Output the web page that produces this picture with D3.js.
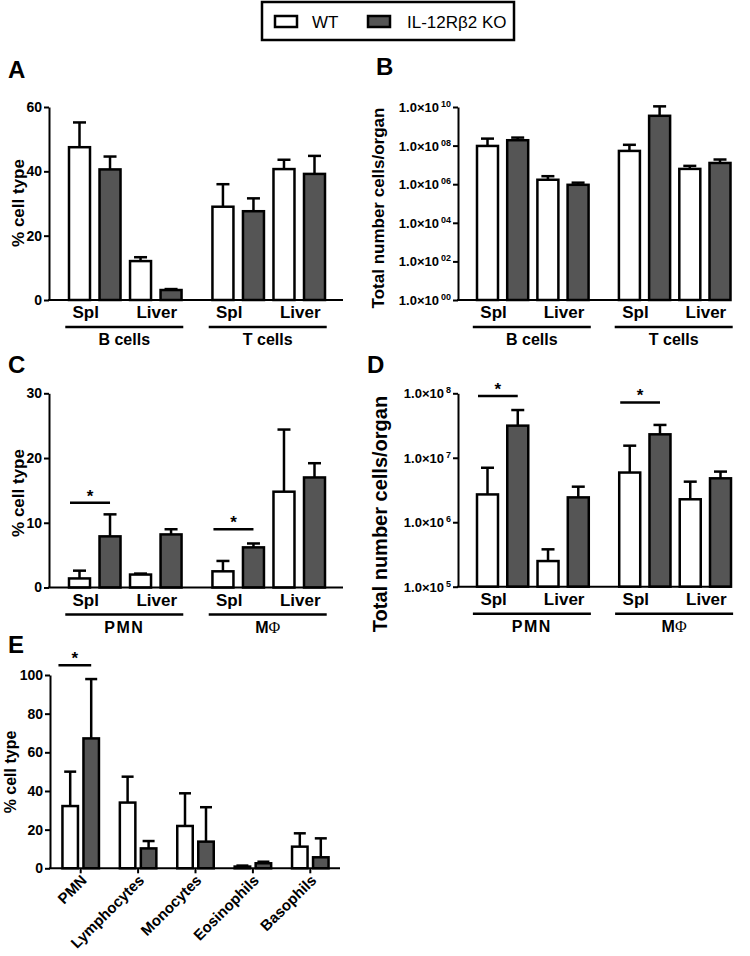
<!DOCTYPE html>
<html><head><meta charset="utf-8">
<script src="https://cdn.jsdelivr.net/npm/d3@7"></script>
<style>
body{margin:0;background:#fff;}
svg text{font-family:"Liberation Sans",Arial,sans-serif;fill:#000;}
</style></head>
<body><svg id="c" width="750" height="956"></svg>
<script>
// ---------------- DATA ----------------
const seriesNames = ["WT", "IL-12Rβ2 KO"];
const organs = ["Spl", "Liver"];
const groupsAB = ["B cells", "T cells"];
const groupsCD = ["PMN", "MΦ"];
// order: group0-Spl, group0-Liver, group1-Spl, group1-Liver
const A_wt = [47.5, 12.1, 29.0, 40.7];
const A_ko = [40.6, 3.1, 27.6, 39.2];
const A_wtErr = [55.2, 13.3, 36.0, 43.6];
const A_koErr = [44.6, 3.4, 31.6, 44.8];
const A_ticks = [0, 20, 40, 60];

const B_wt = [9.6e7, 1.7e6, 5.3e7, 6.2e6];
const B_ko = [1.9e8, 9.3e5, 3.5e9, 1.26e7];
const B_wtErr = [2.3e8, 2.6e6, 1.1e8, 8.9e6];
const B_koErr = [2.6e8, 1.2e6, 1.08e10, 1.9e7];
const B_ticks = [1, 1e2, 1e4, 1e6, 1e8, 1e10];

const C_wt = [1.4, 2.0, 2.5, 14.8];
const C_ko = [7.9, 8.2, 6.2, 17.0];
const C_wtErr = [2.6, 2.15, 4.1, 24.4];
const C_koErr = [11.3, 9.0, 6.8, 19.2];
const C_ticks = [0, 10, 20, 30];
const C_sig = [{pair: 0, level: 13.1}, {pair: 2, level: 9.0}];

const D_wt = [2.7e6, 2.5e5, 5.9e6, 2.27e6];
const D_ko = [3.15e7, 2.43e6, 2.31e7, 4.8e6];
const D_wtErr = [7.0e6, 3.8e5, 1.54e7, 4.26e6];
const D_koErr = [5.5e7, 3.56e6, 3.23e7, 6.1e6];
const D_ticks = [1e5, 1e6, 1e7, 1e8];
const D_sig = [{pair: 0, level: 9.1e7}, {pair: 2, level: 7.2e7}];

const E_cats = ["PMN", "Lymphocytes", "Monocytes", "Eosinophils", "Basophils"];
const E_wt = [32.2, 34.0, 21.9, 0.9, 11.2];
const E_ko = [67.2, 10.3, 13.8, 2.6, 5.7];
const E_wtErr = [50, 47.4, 38.8, 1.4, 18.1];
const E_koErr = [97.9, 14.1, 31.6, 3.4, 15.5];
const E_ticks = [0, 20, 40, 60, 80, 100];
const E_sig = [{cat: 0, level: 105}];

// ---------------- DRAW ----------------
const svg = d3.select("#c");
const WT_FILL = "#fff", KO_FILL = "#555";
const SW = 2.5;

function supText(sel, base, exp, baseSize, expSize) {
  sel.text(null);
  sel.append("tspan").text(base).attr("font-size", baseSize);
  sel.append("tspan").text(exp).attr("font-size", expSize).attr("dy", -5).attr("dx", 2);
}

function barPanel(o) {
  const g = svg.append("g");
  const y = o.y;
  const y0 = y.range()[0];
  const pos = [0, 1, 2, 3, 4.7, 5.7, 6.7, 7.7];
  const x = d3.scaleLinear().domain([0, 7.7]).range(o.xr);
  const bw = 21;
  const bars = [];
  for (let i = 0; i < 4; i++) {
    bars.push({pos: pos[i * 2], v: o.wt[i], e: o.wtErr[i], fill: WT_FILL});
    bars.push({pos: pos[i * 2 + 1], v: o.ko[i], e: o.koErr[i], fill: KO_FILL});
  }
  g.selectAll(".err").data(bars).join("line")
    .attr("x1", d => x(d.pos)).attr("x2", d => x(d.pos))
    .attr("y1", d => y(d.v)).attr("y2", d => y(d.e))
    .attr("stroke", "#000").attr("stroke-width", SW);
  g.selectAll(".cap").data(bars).join("line")
    .attr("x1", d => x(d.pos) - 6.5).attr("x2", d => x(d.pos) + 6.5)
    .attr("y1", d => y(d.e)).attr("y2", d => y(d.e))
    .attr("stroke", "#000").attr("stroke-width", SW);
  g.selectAll(".bar").data(bars).join("rect")
    .attr("x", d => x(d.pos) - bw / 2).attr("width", bw)
    .attr("y", d => y(d.v)).attr("height", d => y0 - y(d.v))
    .attr("fill", d => d.fill).attr("stroke", "#000").attr("stroke-width", SW);
  const ax = d3.axisLeft(y).tickValues(o.ticks).tickSize(5).tickSizeOuter(0).tickPadding(2);
  const ag = g.append("g").attr("transform", `translate(${o.ax},0)`).call(ax);
  ag.select(".domain").attr("stroke-width", 2);
  ag.selectAll(".tick line").attr("stroke-width", 2);
  ag.selectAll(".tick text").attr("font-size", o.tickSize || 14).attr("font-weight", "bold")
    .attr("font-family", "Liberation Sans, Arial, sans-serif");
  if (o.tickFmt) ag.selectAll(".tick text").each(function (d) { o.tickFmt(d3.select(this), d); });
  g.append("line").attr("x1", o.ax - 1).attr("x2", o.axRight).attr("y1", y0).attr("y2", y0)
    .attr("stroke", "#000").attr("stroke-width", 2);
  for (let gi = 0; gi < 2; gi++) {
    for (let oi = 0; oi < 2; oi++) {
      const p = pos[gi * 4 + oi * 2];
      const cx = (x(p) + x(p + 1)) / 2 + (oi === 0 ? -9 : 1);
      g.append("text").attr("x", cx).attr("y", y0 + 18).attr("text-anchor", "middle")
        .attr("font-size", 17).attr("font-weight", "bold").text(organs[oi]);
    }
    const gc = (x(pos[gi * 4]) + x(pos[gi * 4 + 3])) / 2 - 1;
    g.append("line").attr("x1", gc - 59).attr("x2", gc + 59)
      .attr("y1", y0 + 27).attr("y2", y0 + 27).attr("stroke", "#000").attr("stroke-width", 2.5);
    const t = g.append("text").attr("x", gc).attr("y", y0 + 45).attr("text-anchor", "middle")
      .attr("font-size", 16).attr("font-weight", "bold");
    const name = o.groups[gi];
    if (name.includes("Φ")) {
      t.append("tspan").text("M");
      t.append("tspan").text("Φ").attr("font-weight", "normal")
        .attr("font-family", "Liberation Serif, DejaVu Serif, serif");
    } else {
      t.text(name);
      if (name === "PMN") t.attr("letter-spacing", 1.5);
    }
  }
  (o.sig || []).forEach(s => {
    const pW = pos[s.pair * 2], pK = pos[s.pair * 2 + 1];
    const x1 = x(pW) - bw / 2 + 1, x2 = x(pK);
    const yy = y(s.level);
    g.append("line").attr("x1", x1).attr("x2", x2).attr("y1", yy).attr("y2", yy)
      .attr("stroke", "#000").attr("stroke-width", 2.5);
    g.append("text").attr("x", (x1 + x2) / 2).attr("y", yy - 1).attr("text-anchor", "middle")
      .attr("font-size", 17).attr("font-weight", "bold").text("*");
  });
  g.append("text").attr("transform", `translate(${o.titleX},${o.titleY}) rotate(-90)`)
    .attr("text-anchor", "middle").attr("font-size", o.titleSize).attr("font-weight", "bold")
    .text(o.title);
  g.append("text").attr("x", o.letterX).attr("y", o.letterY).attr("font-size", 24)
    .attr("font-weight", "bold").text(o.letter);
}

barPanel({
  y: d3.scaleLinear().domain([0, 60]).range([300, 107]),
  ticks: A_ticks, wt: A_wt, ko: A_ko, wtErr: A_wtErr, koErr: A_koErr,
  xr: [79.5, 314.5], ax: 49, axRight: 343, groups: groupsAB,
  title: "% cell type", titleX: 24, titleY: 203, titleSize: 17,
  letter: "A", letterX: 8, letterY: 78
});
barPanel({
  y: d3.scaleLog().domain([1, 1e10]).range([300, 107]),
  ticks: B_ticks, wt: B_wt, ko: B_ko, wtErr: B_wtErr, koErr: B_koErr,
  xr: [487.5, 720], ax: 458, axRight: 731, groups: groupsAB,
  tickFmt: (s, d) => supText(s, "1.0×10", String(Math.round(Math.log10(d))).padStart(2, "0"), 13, 9),
  title: "Total number cells/organ", titleX: 384, titleY: 208, titleSize: 17,
  letter: "B", letterX: 376, letterY: 75
});
barPanel({
  y: d3.scaleLinear().domain([0, 30]).range([587.5, 393.3]),
  ticks: C_ticks, wt: C_wt, ko: C_ko, wtErr: C_wtErr, koErr: C_koErr,
  xr: [79.5, 314.5], ax: 49, axRight: 343, groups: groupsCD, sig: C_sig,
  title: "% cell type", titleX: 24, titleY: 493, titleSize: 17,
  letter: "C", letterX: 8, letterY: 373
});
barPanel({
  y: d3.scaleLog().domain([1e5, 1e8]).range([586.7, 393.3]),
  ticks: D_ticks, wt: D_wt, ko: D_ko, wtErr: D_wtErr, koErr: D_koErr,
  xr: [487.5, 720.5], ax: 458, axRight: 731, groups: groupsCD, sig: D_sig,
  tickFmt: (s, d) => supText(s, "1.0×10", String(Math.round(Math.log10(d))), 13, 9),
  title: "Total number cells/organ", titleX: 387, titleY: 514, titleSize: 20,
  letter: "D", letterX: 367, letterY: 373
});

(function () {
  const g = svg.append("g");
  const y = d3.scaleLinear().domain([0, 100]).range([868.3, 675]);
  const y0 = 868.3;
  const x = d3.scaleBand().domain(E_cats).range([52, 339]).paddingInner(0).paddingOuter(0);
  const bw = 15.5, off = 10.5;
  const bars = [];
  E_cats.forEach((c, i) => {
    bars.push({c, dx: -off, v: E_wt[i], e: E_wtErr[i], fill: WT_FILL});
    bars.push({c, dx: off, v: E_ko[i], e: E_koErr[i], fill: KO_FILL});
  });
  const cx = d => x(d.c) + x.bandwidth() / 2 + d.dx;
  g.selectAll(".err").data(bars).join("line")
    .attr("x1", cx).attr("x2", cx).attr("y1", d => y(d.v)).attr("y2", d => y(d.e))
    .attr("stroke", "#000").attr("stroke-width", SW);
  g.selectAll(".cap").data(bars).join("line")
    .attr("x1", d => cx(d) - 6).attr("x2", d => cx(d) + 6)
    .attr("y1", d => y(d.e)).attr("y2", d => y(d.e))
    .attr("stroke", "#000").attr("stroke-width", SW);
  g.selectAll(".bar").data(bars).join("rect")
    .attr("x", d => cx(d) - bw / 2).attr("width", bw)
    .attr("y", d => y(d.v)).attr("height", d => y0 - y(d.v))
    .attr("fill", d => d.fill).attr("stroke", "#000").attr("stroke-width", SW);
  const ag = g.append("g").attr("transform", "translate(50,0)")
    .call(d3.axisLeft(y).tickValues(E_ticks).tickSize(5).tickSizeOuter(0).tickPadding(2));
  ag.select(".domain").attr("stroke-width", 2);
  ag.selectAll(".tick line").attr("stroke-width", 2);
  ag.selectAll(".tick text").attr("font-size", 14).attr("font-weight", "bold")
    .attr("font-family", "Liberation Sans, Arial, sans-serif");
  const xg = g.append("g").attr("transform", `translate(0,${y0})`)
    .call(d3.axisBottom(x).tickSize(5).tickSizeOuter(0).tickFormat(""));
  xg.select(".domain").attr("d", `M49,0H340`).attr("stroke-width", 2);
  xg.selectAll(".tick line").attr("stroke-width", 2);
  E_cats.forEach(c => {
    const tx = x(c) + x.bandwidth() / 2;
    g.append("text").attr("transform", `translate(${tx + 7},${y0 + 13}) rotate(-45)`)
      .attr("text-anchor", "end").attr("font-size", 15).attr("font-weight", "bold").text(c);
  });
  E_sig.forEach(s => {
    const c = E_cats[s.cat];
    const x1 = x(c) + x.bandwidth() / 2 - off - bw / 2 - 4, x2 = x(c) + x.bandwidth() / 2 + off;
    const yy = y(s.level);
    g.append("line").attr("x1", x1).attr("x2", x2).attr("y1", yy).attr("y2", yy)
      .attr("stroke", "#000").attr("stroke-width", 2.5);
    g.append("text").attr("x", (x1 + x2) / 2).attr("y", yy - 1).attr("text-anchor", "middle")
      .attr("font-size", 17).attr("font-weight", "bold").text("*");
  });
  g.append("text").attr("transform", "translate(16,772) rotate(-90)")
    .attr("text-anchor", "middle").attr("font-size", 16).attr("font-weight", "bold").text("% cell type");
  g.append("text").attr("x", 8).attr("y", 653).attr("font-size", 24).attr("font-weight", "bold").text("E");
})();

(function () {
  const g = svg.append("g");
  g.append("rect").attr("x", 262).attr("y", 2).attr("width", 252).attr("height", 38)
    .attr("fill", "#fff").attr("stroke", "#000").attr("stroke-width", 2.5);
  const items = [{x: 275, tx: 312, fill: WT_FILL}, {x: 368, tx: 407, fill: KO_FILL}];
  items.forEach((it, i) => {
    g.append("rect").attr("x", it.x).attr("y", 16).attr("width", 22).attr("height", 11)
      .attr("fill", it.fill).attr("stroke", "#000").attr("stroke-width", 2.5);
    g.append("text").attr("x", it.tx).attr("y", 28).attr("font-size", 17).text(seriesNames[i]);
  });
})();
</script></body></html>
